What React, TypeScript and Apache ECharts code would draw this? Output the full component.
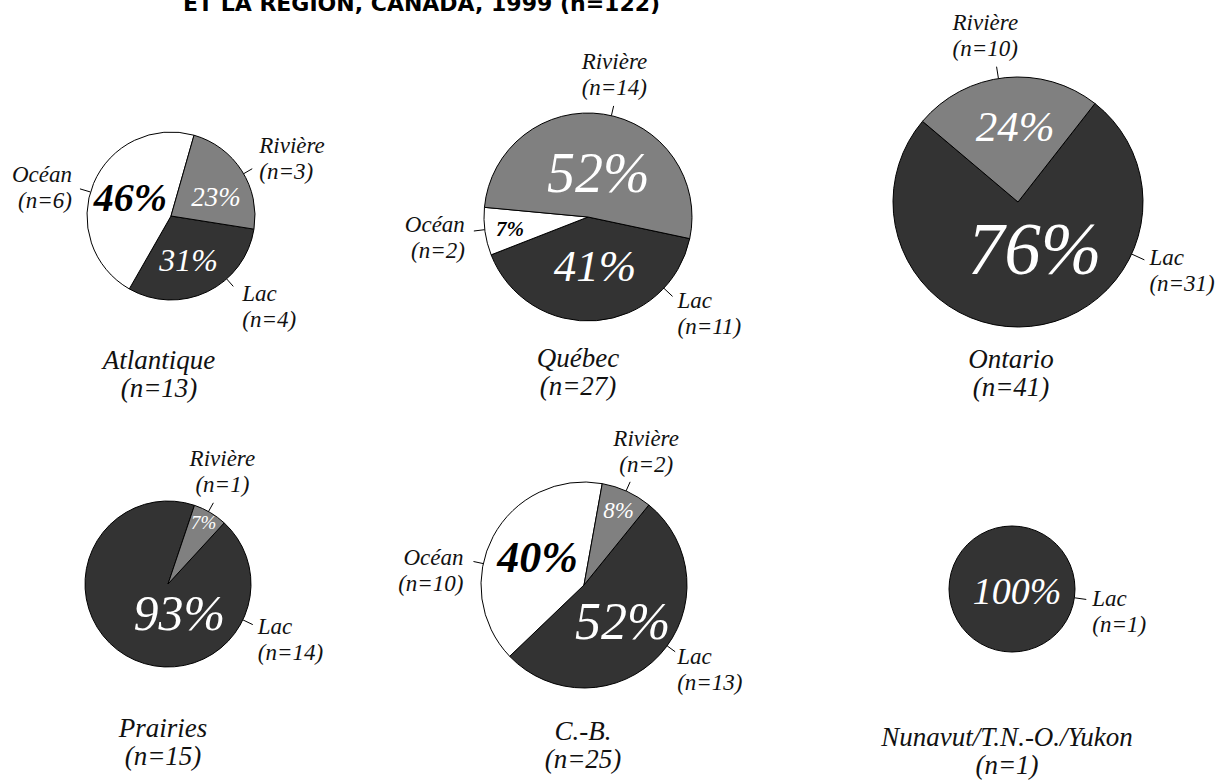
import { useEffect, useRef } from "react";
import * as echarts from "echarts";

// ---------- data ----------
const regions = ["Atlantique", "Québec", "Ontario", "Prairies", "C.-B.", "Nunavut/T.N.-O./Yukon"];
const categories = ["Lac", "Océan", "Rivière"];
const lacCounts = [4, 11, 31, 14, 13, 1];
const oceanCounts = [6, 2, 0, 0, 10, 0];
const riviereCounts = [3, 14, 10, 1, 2, 0];
const titleText = "ET LA RÉGION, CANADA, 1999";

// ---------- styles / layout ----------
const sliceColors: Record<string, string> = { Lac: "#333333", "Océan": "#ffffff", "Rivière": "#808080" };
const pctColors: Record<string, string> = { Lac: "#ffffff", "Océan": "#000000", "Rivière": "#ffffff" };
const pctBold: Record<string, boolean> = { Lac: false, "Océan": true, "Rivière": false };
const SERIF = "Liberation Serif";

const pies = [
  { cx: 171, cy: 216, r: 84, startAngle: -9, titleX: 159, titleY: 360 },
  { cx: 588, cy: 217, r: 104, startAngle: -12, titleX: 578, titleY: 358 },
  { cx: 1018, cy: 202, r: 125, startAngle: 52, titleX: 1011, titleY: 359 },
  { cx: 168, cy: 584, r: 83, startAngle: 47.4, titleX: 163, titleY: 728 },
  { cx: 584, cy: 585, r: 103, startAngle: 51, titleX: 583, titleY: 731 },
  { cx: 1012, cy: 589, r: 63, startAngle: 180, titleX: 1007, titleY: 737 },
];

// percent label: [fontSize, dx, dy]
const pctStyle: Record<string, number[]>[] = [
  { Lac: [32, -2, 3], "Océan": [40, 1, -1.5], "Rivière": [27, 7, 5] },
  { Lac: [45, 2.5, -6], "Océan": [21, -23.5, 4], "Rivière": [56, 2, 10] },
  { Lac: [73, 10, -18], "Rivière": [43, 4, -10] },
  { Lac: [50, 34, -9], "Rivière": [19, 13, -23] },
  { Lac: [52, -1.5, 0], "Océan": [44, 1.5, -2], "Rivière": [23, 12, -25] },
  { Lac: [38, 5, 2] },
];

// outer label: [angle (deg clockwise from top), tick length, align, dx, dy]
const outerStyle: Record<string, any[]>[] = [
  { Lac: [138.5, 10, "left", 9, 20.5], "Océan": [286.6, 11, "right", -8, -1], "Rivière": [59.8, 10, "left", 7, -10.5] },
  { Lac: [133.2, 12, "left", 5, 17], "Océan": [263, 11, "right", -9, 6.5], "Rivière": [13, 10, "left", -32, -31.5] },
  { Lac: [114.6, 14, "left", 5, 11], "Rivière": [351, 12, "left", -44, -31.5] },
  { Lac: [115.6, 11, "left", 5, 15], "Rivière": [29.2, 10, "center", 9, -31.5] },
  { Lac: [126.2, 10, "left", 2, 17.5], "Océan": [282, 10, "right", -10, 8.5], "Rivière": [24.1, 10, "center", 16, -30] },
  { Lac: [98, 12, "left", 6, 12] },
];

function buildOption() {
  const counts = [lacCounts, oceanCounts, riviereCounts];
  const totals = regions.map((_, i) => counts.reduce((s, arr) => s + arr[i], 0));
  const grandTotal = totals.reduce((a, b) => a + b, 0);

  const series: any[] = [];
  regions.forEach((region, i) => {
    const p = pies[i];
    const items = categories
      .map((cat, k) => ({ name: cat, value: counts[k][i] }))
      .filter((d) => d.value > 0);

    const single = items.length === 1;

    // visible slices + percent labels
    series.push({
      type: "pie",
      name: region,
      center: [p.cx, p.cy],
      radius: [0, p.r],
      startAngle: p.startAngle,
      clockwise: true,
      silent: true,
      avoidLabelOverlap: false,
      percentPrecision: 0,
      emphasis: { disabled: true },
      label: {
        show: true,
        position: single ? "center" : "inside",
        formatter: "{d}%",
        fontFamily: SERIF,
        fontStyle: "italic",
      },
      labelLine: { show: false },
      labelLayout: (prm: any) => {
        const nm = items[prm.dataIndex].name;
        const s = pctStyle[i][nm];
        return { dx: s[1], dy: s[2] };
      },
      itemStyle: { borderColor: "#000", borderWidth: 1 },
      data: items.map((d) => ({
        name: d.name,
        value: d.value,
        itemStyle: { color: sliceColors[d.name] },
        label: {
          fontSize: pctStyle[i][d.name][0],
          fontWeight: pctBold[d.name] ? "bold" : "normal",
          fontFamily: SERIF,
          fontStyle: "italic",
          color: pctColors[d.name],
        },
      })),
    });

    // transparent overlay carrying outer labels
    series.push({
      type: "pie",
      name: region + "-labels",
      center: [p.cx, p.cy],
      radius: [0, p.r],
      startAngle: p.startAngle,
      clockwise: true,
      silent: true,
      avoidLabelOverlap: false,
      emphasis: { disabled: true },
      itemStyle: { color: "rgba(0,0,0,0)", borderWidth: 0 },
      label: {
        show: true,
        position: "outside",
        formatter: (prm: any) => `${prm.name}\n(n=${prm.value})`,
        fontFamily: SERIF,
        fontStyle: "italic",
        fontSize: 23,
        lineHeight: 26,
        color: "#111",
      },
      labelLine: { show: true, length: 10, length2: 0, lineStyle: { color: "#000", width: 1 } },
      labelLayout: (prm: any) => {
        const nm = items[prm.dataIndex].name;
        const [ang, len, align, dx, dy] = outerStyle[i][nm];
        const t = (ang * Math.PI) / 180;
        const ux = Math.sin(t);
        const uy = -Math.cos(t);
        const x1 = p.cx + p.r * ux;
        const y1 = p.cy + p.r * uy;
        const x2 = p.cx + (p.r + len) * ux;
        const y2 = p.cy + (p.r + len) * uy;
        return {
          x: x2 + dx,
          y: y2 + dy,
          align,
          verticalAlign: "middle",
          labelLinePoints: [
            [x1, y1],
            [x2, y2],
            [x2, y2],
          ],
        };
      },
      data: items.map((d) => ({ name: d.name, value: d.value })),
    });
  });

  const graphic: any[] = [
    {
      type: "text",
      x: 183,
      y: 3,
      style: {
        text: `${titleText} (n=${grandTotal})`,
        fontFamily: "DejaVu Sans",
        fontWeight: "bold",
        fontSize: 22,
        fill: "#000",
        align: "left",
        verticalAlign: "middle",
      },
    },
  ];
  regions.forEach((name, i) => {
    const lines = [name, `(n=${totals[i]})`];
    lines.forEach((line, j) => {
      graphic.push({
        type: "text",
        x: pies[i].titleX,
        y: pies[i].titleY + j * 27.5,
        style: {
          text: line,
          fontFamily: SERIF,
          fontStyle: "italic",
          fontSize: 27,
          fill: "#111",
          align: "center",
          verticalAlign: "middle",
        },
      });
    });
  });

  return {
    animation: false,
    backgroundColor: "#ffffff",
    series,
    graphic,
  };
}

export default function App() {
  const ref = useRef<HTMLDivElement>(null);
  useEffect(() => {
    document.body.style.margin = "0";
    if (!ref.current) return;
    const chart = echarts.init(ref.current, undefined, { renderer: "svg" });
    chart.setOption(buildOption() as any);
    return () => chart.dispose();
  }, []);
  return <div ref={ref} style={{ width: 1226, height: 782 }} />;
}
